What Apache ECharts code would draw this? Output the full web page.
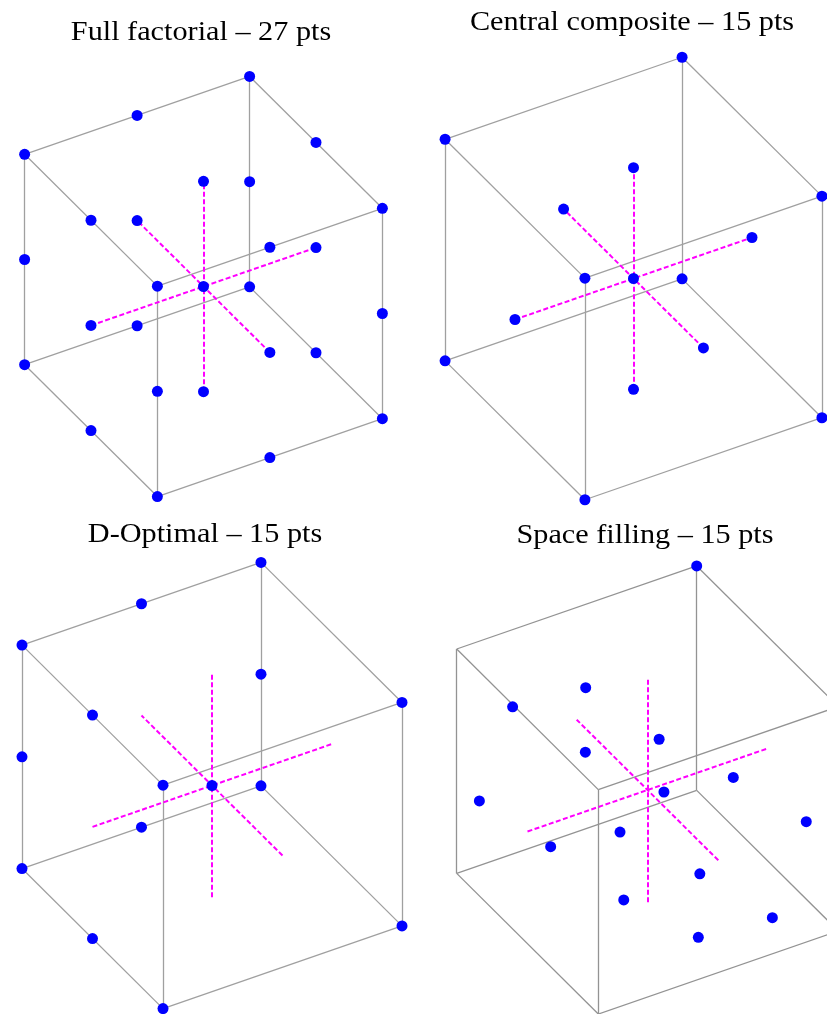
<!DOCTYPE html>
<html>
<head>
<meta charset="utf-8">
<script src="https://cdn.jsdelivr.net/npm/echarts@6/dist/echarts.min.js"></script>
<style>
  html, body { margin: 0; padding: 0; background: #ffffff; }
  #chart { width: 827px; height: 1014px; }
</style>
</head>
<body>
<div id="chart"></div>
<script>
// Design points in coded units [x, y, z], every factor scaled to [-1, 1]
const fullFactorialPts = [
  [-1, -1, -1], [-1, -1, 0], [-1, -1, 1],
  [-1, 0, -1], [-1, 0, 0], [-1, 0, 1],
  [-1, 1, -1], [-1, 1, 0], [-1, 1, 1],
  [0, -1, -1], [0, -1, 0], [0, -1, 1],
  [0, 0, -1], [0, 0, 0], [0, 0, 1],
  [0, 1, -1], [0, 1, 0], [0, 1, 1],
  [1, -1, -1], [1, -1, 0], [1, -1, 1],
  [1, 0, -1], [1, 0, 0], [1, 0, 1],
  [1, 1, -1], [1, 1, 0], [1, 1, 1]
];

const centralCompositePts = [
  [-1, -1, -1], [1, -1, -1], [1, 1, -1], [-1, 1, -1],
  [-1, -1, 1], [1, -1, 1], [1, 1, 1], [-1, 1, 1],
  [-1, 0, 0], [1, 0, 0], [0, -1, 0], [0, 1, 0], [0, 0, -1], [0, 0, 1],
  [0, 0, 0]
];

const dOptimalPts = [
  [-1, -1, -1], [1, -1, -1], [1, 1, -1], [-1, 1, -1],
  [-1, -1, 1], [1, -1, 1], [1, 1, 1], [-1, 1, 1],
  [0, 1, 1], [1, 1, 0], [-1, 0, 1], [-1, 1, 0],
  [0, 1, -1], [-1, 0, -1], [0, 0, 0]
];

const spaceFillingPts = [
  [1.00, 1.00, 1.00], [-0.22, 0.50, 0.68], [-0.77, 0.60, 0.65],
  [-0.40, 0.20, 0.36], [-0.08, -0.30, 0.67], [0.42, -0.50, 0.27],
  [0.55, 0.70, -0.66], [-0.87, 0.90, -0.34], [0.91, -0.70, -0.18],
  [-0.76, -0.90, 0.47], [-0.63, 0.30, -0.46], [0.20, -0.40, -0.57],
  [-0.67, -0.80, -0.23], [0.48, -0.95, -0.72], [0.04, -0.65, -0.92]
];

const panelTitles = [
  'Full factorial – 27 pts',
  'Central composite – 15 pts',
  'D-Optimal – 15 pts',
  'Space filling – 15 pts'
];

// Unit cube frame and the three factor axes through the centre
const cubeCorners = [
  [-1, -1, -1], [1, -1, -1], [1, 1, -1], [-1, 1, -1],
  [-1, -1, 1], [1, -1, 1], [1, 1, 1], [-1, 1, 1]
];
const cubeEdges = [
  [0, 1], [1, 2], [2, 3], [3, 0],
  [4, 5], [5, 6], [6, 7], [7, 4],
  [0, 4], [1, 5], [2, 6], [3, 7]
];
const factorAxes = [
  [[-1, 0, 0], [1, 0, 0]],
  [[0, -1, 0], [0, 1, 0]],
  [[0, 0, -1], [0, 0, 1]]
];

// Oblique view: screen direction of each coded factor (y axis points up)
const VIEW = { ex: [1, 0.346], ey: [-0.59, 0.586], ez: [0, 0.935] };
function project(p) {
  return [
    p[0] * VIEW.ex[0] + p[1] * VIEW.ey[0] + p[2] * VIEW.ez[0],
    p[0] * VIEW.ex[1] + p[1] * VIEW.ey[1] + p[2] * VIEW.ez[1]
  ];
}

// Panel placement: pixels per coded unit and centre of the cube
const panels = [
  { pts: fullFactorialPts,     s: 112.5, cx: 203.5, cy: 286.5, tx: 201, ty: 33,  edge: '#a0a0a0' },
  { pts: centralCompositePts,  s: 118.5, cx: 633.5, cy: 278.5, tx: 632, ty: 23,  edge: '#a0a0a0' },
  { pts: dOptimalPts,          s: 119.5, cx: 212,   cy: 785.5, tx: 205, ty: 535, edge: '#a0a0a0' },
  { pts: spaceFillingPts,      s: 120,   cx: 647.5, cy: 790,   tx: 645, ty: 536, edge: '#939393' }
];

const R = 2; // axis half-range in coded view units
const grid = [], xAxis = [], yAxis = [], series = [], graphic = [];

panels.forEach((pn, i) => {
  grid.push({
    left: pn.cx - R * pn.s, top: pn.cy - R * pn.s,
    width: 2 * R * pn.s, height: 2 * R * pn.s,
    containLabel: false, outerBoundsMode: 'none'
  });
  xAxis.push({ type: 'value', gridIndex: i, min: -R, max: R, show: false });
  yAxis.push({ type: 'value', gridIndex: i, min: -R, max: R, show: false });

  series.push({
    type: 'lines', coordinateSystem: 'cartesian2d', xAxisIndex: i, yAxisIndex: i,
    silent: true, z: 1,
    lineStyle: { color: pn.edge, width: 1.3, opacity: 1 },
    data: cubeEdges.map(e => ({ coords: [project(cubeCorners[e[0]]), project(cubeCorners[e[1]])] }))
  });
  series.push({
    type: 'lines', coordinateSystem: 'cartesian2d', xAxisIndex: i, yAxisIndex: i,
    silent: true, z: 2,
    lineStyle: { color: '#ff00ff', width: 2, type: [5, 2.5], opacity: 1 },
    data: factorAxes.map(a => ({ coords: [project(a[0]), project(a[1])] }))
  });
  series.push({
    type: 'scatter', xAxisIndex: i, yAxisIndex: i, z: 3, clip: false,
    symbol: 'circle', symbolSize: 11,
    itemStyle: { color: '#0000ff', opacity: 1 },
    data: pn.pts.map(project)
  });

  graphic.push({
    type: 'text', x: pn.tx, y: pn.ty, scaleX: 1.08, silent: true,
    style: {
      text: panelTitles[i], fill: '#000000',
      fontFamily: '"Liberation Serif", "DejaVu Serif", serif', fontSize: 28,
      align: 'center', verticalAlign: 'middle'
    }
  });
});

const chart = echarts.init(document.getElementById('chart'), null, { renderer: 'canvas' });
chart.setOption({
  animation: false,
  backgroundColor: '#ffffff',
  grid, xAxis, yAxis, series, graphic
});
</script>
</body>
</html>
